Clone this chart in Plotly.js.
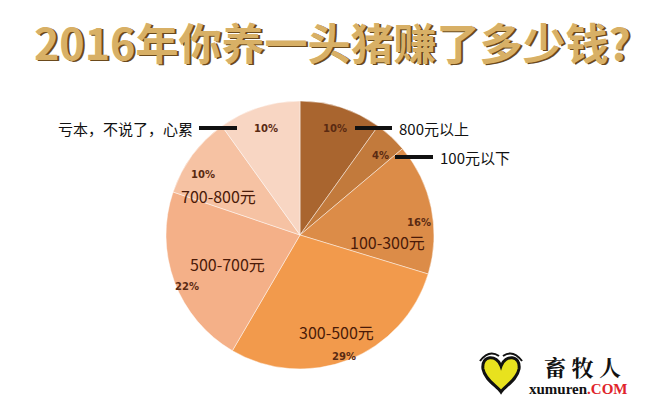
<!DOCTYPE html>
<html><head><meta charset="utf-8">
<script src="https://cdn.plot.ly/plotly-3.0.1.min.js"></script>
<style>html,body{margin:0;padding:0;background:#fff;}#chart{width:654px;height:398px;}</style>
</head><body><div id="chart"></div>
<script>
// ---- data ----
const categories = ['800元以上','100元以下','100-300元','300-500元','500-700元','700-800元','亏本，不说了，心累'];
const shares = [10, 4, 16, 29, 22, 10, 10];
const percentLabels = ['10%','4%','16%','29%','22%','10%','10%'];
const titleText = '2016年你养一头猪赚了多少钱?';
const sliceColors = ['#a9652f','#c27a3c','#dc8c48','#f29a4c','#f4b088','#f6c2a3','#f8d6c3'];

// ---- layout helpers (pixel -> paper) ----
const W = 654, H = 398;
const px = x => x / W, py = y => 1 - y / H;
function path(cmds){
  return cmds.map(c => c[0] + ' ' + c.slice(1).reduce((s,v,i)=> s + (i%2===0 ? px(v).toFixed(4) : ',' + py(v).toFixed(4) + ' '), '')).join(' ');
}

// pie placement (pixels)
const cx = 300, cy = 235, r = 134;

const pctPos = [[335,128],[381,156],[419,222],[344,356],[187,286],[203,175],[266,128]];
const catPos = [null,null,[387,242],[336,332],[227,264],[218,196],null];
const callouts = [[0,397,128,355,392,'left'],[1,438,157,395,433,'left'],[6,195,128,199,237,'right']];

const annotations = [];
const shapes = [];
percentLabels.forEach((t,i)=>{
  annotations.push({xref:'paper',yref:'paper',x:px(pctPos[i][0]),y:py(pctPos[i][1]),text:'<b>'+t+'</b>',showarrow:false,
    font:{family:'DejaVu Sans',size:10,color:'#5a2a12'},xanchor:'center',yanchor:'middle'});
  if (catPos[i]) annotations.push({xref:'paper',yref:'paper',x:px(catPos[i][0]),y:py(catPos[i][1]),text:categories[i],showarrow:false,
    font:{family:'Noto Sans CJK SC',size:16,color:'#4a1a08'},xanchor:'center',yanchor:'middle'});
});
callouts.forEach(c=>{
  annotations.push({xref:'paper',yref:'paper',x:px(c[1]),y:py(c[2]),text:categories[c[0]],showarrow:false,
    font:{family:'Noto Sans CJK SC',size:15,color:'#111'},xanchor:c[5],yanchor:'middle'});
  shapes.push({type:'line',xref:'paper',yref:'paper',x0:px(c[3]),x1:px(c[4]),y0:py(c[2]),y1:py(c[2]),line:{color:'#111',width:4}});
});

// title with shadow layer
annotations.push({xref:'paper',yref:'paper',x:px(334.5),y:py(42.5),text:'<b>'+titleText+'</b>',showarrow:false,
  font:{family:'Noto Sans CJK SC',size:43,color:'#6b4a1c'},xanchor:'center',yanchor:'middle'});
annotations.push({xref:'paper',yref:'paper',x:px(333),y:py(41),text:'<b>'+titleText+'</b>',showarrow:false,
  font:{family:'Noto Sans CJK SC',size:43,color:'#d8b066'},xanchor:'center',yanchor:'middle'});

// logo
shapes.push({type:'path',xref:'paper',yref:'paper',
  path: path([['M',501,366],['C',497,354,481,355,483,369],['C',485,380,497,386,501,392],['C',505,386,517,380,519,369],['C',521,355,505,354,501,366],['Z']]),
  fillcolor:'#e8e21e',line:{color:'#111',width:3}});
shapes.push({type:'path',xref:'paper',yref:'paper',path:path([['M',480,361],['Q',489,349,499,356]]),line:{color:'#111',width:2}});
shapes.push({type:'path',xref:'paper',yref:'paper',path:path([['M',503,356],['Q',513,349,522,361]]),line:{color:'#111',width:2}});
annotations.push({xref:'paper',yref:'paper',x:px(582),y:py(366),text:'<b>畜 牧 人</b>',showarrow:false,
  font:{family:'Noto Serif CJK SC, Noto Sans CJK SC',size:22,color:'#111'},xanchor:'center',yanchor:'middle'});
annotations.push({xref:'paper',yref:'paper',x:px(527),y:py(389),text:'<b>xumuren</b><span style="color:#e0242a"><b>.COM</b></span>',showarrow:false,
  font:{family:'Liberation Serif',size:15,color:'#111'},xanchor:'left',yanchor:'middle'});

const data = [{
  type:'pie', labels:categories, values:shares, sort:false, direction:'clockwise', rotation:0,
  marker:{colors:sliceColors, line:{color:'rgba(255,255,255,0.45)',width:1}},
  textinfo:'none', hoverinfo:'label+percent', showlegend:false,
  domain:{x:[px(cx-r),px(cx+r)], y:[py(cy+r),py(cy-r)]}
}];
const layout = {width:W,height:H,margin:{l:0,r:0,t:0,b:0},paper_bgcolor:'#fff',plot_bgcolor:'#fff',
  showlegend:false, annotations, shapes};
Plotly.newPlot('chart', data, layout, {displayModeBar:false, staticPlot:true});
</script></body></html>
